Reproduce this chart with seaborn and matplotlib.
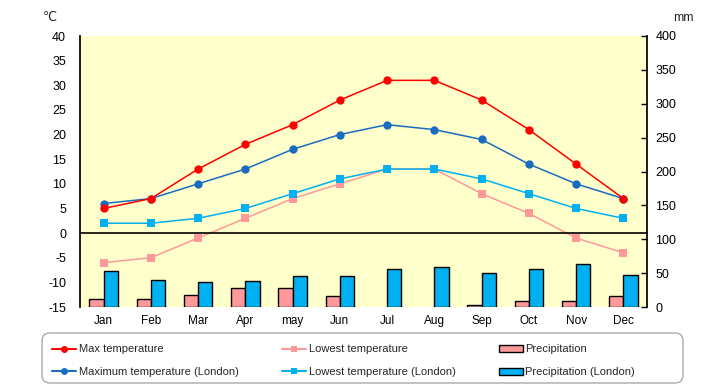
import numpy as np
import pandas as pd
import matplotlib
matplotlib.use("Agg")
import matplotlib.pyplot as plt
from matplotlib.lines import Line2D
from matplotlib.patches import Patch, FancyBboxPatch
import seaborn as sns

# ── Data ──────────────────────────────────────────────────────────────────────
MONTHS = ["Jan", "Feb", "Mar", "Apr", "may", "Jun",
          "Jul", "Aug", "Sep", "Oct", "Nov", "Dec"]

max_temp        = [5, 7, 13, 18, 22, 27, 31, 31, 27, 21, 14, 7]
low_temp        = [-6, -5, -1, 3, 7, 10, 13, 13, 8, 4, -1, -4]
max_temp_london = [6, 7, 10, 13, 17, 20, 22, 21, 19, 14, 10, 7]
low_temp_london = [2, 2, 3, 5, 8, 11, 13, 13, 11, 8, 5, 3]

precip        = [12.5, 12.5, 17, 27.5, 27.5, 15.5, 0, 0, 3.5, 9.5, 9.5, 15.5]
precip_london = [53, 39.5, 36.5, 38, 45.5, 45.5, 56, 59, 50, 56, 63.5, 47]

TEMP_TICKS   = list(range(-15, 41, 5))
PRECIP_TICKS = list(range(0, 401, 50))

# ── Style ─────────────────────────────────────────────────────────────────────
sns.set_theme(style="white")
plt.rcParams["font.family"] = ["Liberation Sans", "DejaVu Sans"]
plt.rcParams["axes.unicode_minus"] = False

RED, PINK = "#FF0000", "#FF9999"
NAVY, CYAN = "#1A6CC0", "#00B0F0"
BG = "#FFFFCC"

fig = plt.figure(figsize=(7.2, 3.85), dpi=100)
ax = fig.add_axes([80 / 720, 1 - 307 / 385, 567 / 720, 271 / 385])
ax_p = ax.twinx()

# precipitation bars sit behind the temperature lines
ax.set_zorder(ax_p.get_zorder() + 1)
ax.patch.set_visible(False)
ax_p.patch.set_visible(True)
ax_p.patch.set_facecolor(BG)

df_p = pd.DataFrame({
    "month": MONTHS * 2,
    "series": ["Precipitation"] * 12 + ["Precipitation (London)"] * 12,
    "value": precip + precip_london,
})
sns.barplot(data=df_p, x="month", y="value", hue="series",
            palette={"Precipitation": PINK, "Precipitation (London)": CYAN},
            edgecolor="black", linewidth=1, width=0.6, gap=0,
            saturation=1, legend=False, ax=ax_p)
# no outline for empty bars (Jul/Aug)
for bar in ax_p.patches:
    if bar.get_height() == 0:
        bar.set_linewidth(0)

x = np.arange(len(MONTHS))
for vals, col, mk in [(low_temp, PINK, "s"), (low_temp_london, CYAN, "s"),
                      (max_temp_london, NAVY, "o"), (max_temp, RED, "o")]:
    sns.lineplot(x=x, y=vals, color=col, marker=mk, markersize=6,
                 markeredgewidth=0, linewidth=1.1, ax=ax)

ax.axhline(0, color="black", linewidth=1.2)

ax.set_xlim(-0.5, 11.5)
ax.set_ylim(-15, 40)
ax.set_yticks(TEMP_TICKS)
ax_p.set_ylim(0, 400)
ax_p.set_yticks(PRECIP_TICKS)

for a in (ax, ax_p):
    a.set_xlabel("")
    a.set_ylabel("")
ax.set_xticks(x)
ax.set_xticklabels(MONTHS)

ax.tick_params(axis="y", labelsize=9, length=0, pad=10, colors="black")
ax.tick_params(axis="x", labelsize=8.5, length=0, pad=6, colors="black")
ax_p.tick_params(axis="y", labelsize=9, direction="in", length=4,
                 width=1, pad=6, colors="black")

for s in ["top", "bottom", "right"]:
    ax.spines[s].set_visible(False)
for s in ["top", "bottom", "left"]:
    ax_p.spines[s].set_visible(False)
ax.spines["left"].set_color("black")
ax_p.spines["right"].set_color("black")

fig.text(50 / 720, 1 - 18 / 385, "℃", fontsize=9, ha="center", va="center")
fig.text(683 / 720, 1 - 18 / 385, "mm", fontsize=9, ha="center", va="center")

# ── Legend (own rounded frame, entries placed inside) ─────────────────────────
frame = FancyBboxPatch((0.42, 0.02), 6.41, 0.50,
                       boxstyle="round,pad=0,rounding_size=0.08",
                       transform=fig.dpi_scale_trans, facecolor="white",
                       edgecolor="#AAAAAA", linewidth=1)
fig.patches.append(frame)

handles = [
    Line2D([], [], color=RED, marker="o", markersize=5, markeredgewidth=0),
    Line2D([], [], color=NAVY, marker="o", markersize=5, markeredgewidth=0),
    Line2D([], [], color=PINK, marker="s", markersize=5, markeredgewidth=0),
    Line2D([], [], color=CYAN, marker="s", markersize=5, markeredgewidth=0),
    Patch(facecolor=PINK, edgecolor="black"),
    Patch(facecolor=CYAN, edgecolor="black"),
]
labels = ["Max temperature", "Maximum temperature (London)",
          "Lowest temperature", "Lowest temperature (London)",
          "Precipitation", "Precipitation (London)"]
leg = fig.legend(handles, labels, ncol=3, loc="upper left",
                 bbox_to_anchor=(0.487, 0.44),
                 bbox_transform=fig.dpi_scale_trans,
                 fontsize=8, frameon=False,
                 handlelength=2.2, handleheight=0.6, handletextpad=0.2,
                 labelspacing=1.15, columnspacing=3.9,
                 borderaxespad=0, borderpad=0.3)

fig.savefig("out.png", dpi=100)
